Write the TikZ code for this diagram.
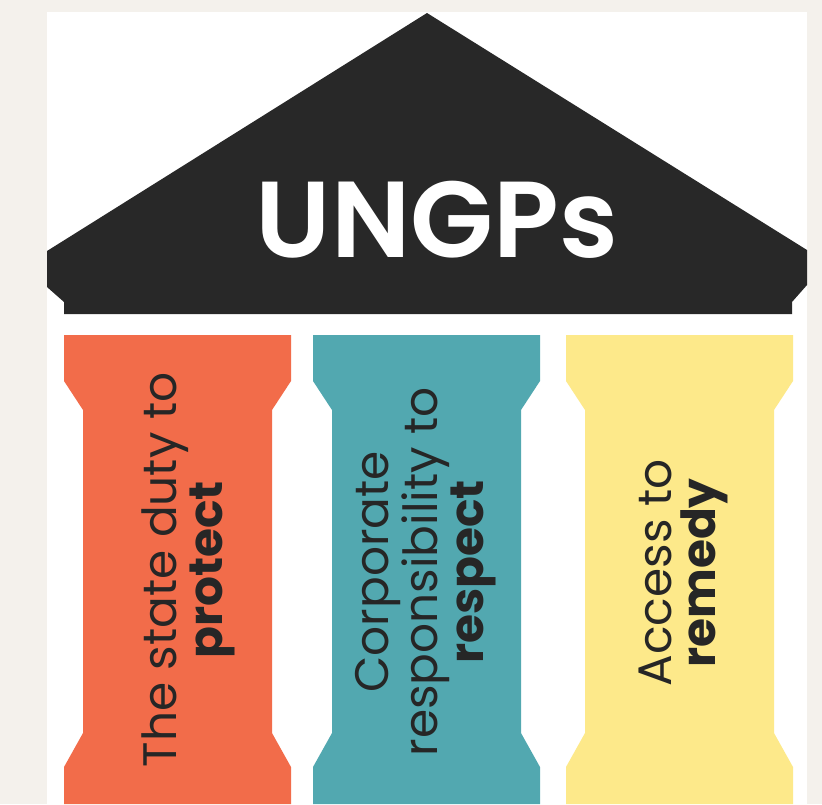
\documentclass[tikz,border=0pt]{standalone}
\usepackage{fontspec}
\setmainfont{Poppins}
\newfontfamily\titlefont{Poppins}[UprightFont={* SemiBold}]
\definecolor{bgcream}{HTML}{F4F1EC}
\definecolor{roofgray}{HTML}{282828}
\definecolor{protectorange}{HTML}{F26C4A}
\definecolor{respectteal}{HTML}{52A8B0}
\definecolor{remedyyellow}{HTML}{FDE98A}
\definecolor{inkgray}{HTML}{262626}
\begin{document}
\begin{tikzpicture}[x=1pt,y=-1pt]
\tikzstyle{every node}+=[inner sep=0pt]
\tikzstyle{pillartext}=[inkgray,rotate=90,align=center,font=\fontsize{47}{44}\selectfont]
\useasboundingbox (0,0) rectangle (822,804);
\fill [bgcream] (0,0) rectangle (822,804);
\fill [white] (47,12) rectangle (807,804);
% roof
\fill [roofgray] (427,13) -- (807,250) -- (807,285) -- (792,302) -- (792,314)
  -- (64,314) -- (64,302) -- (47,287) -- (47,251) -- cycle;
\draw (437,257) node[anchor=base,white,font=\titlefont\fontsize{108}{108}\selectfont] (ungps) {UNGPs};
% pillars
\fill [protectorange] (64,335) -- (291,335) -- (291,381) -- (272,410) -- (272,733)
  -- (291,767) -- (291,804) -- (64,804) -- (64,767) -- (83,733) -- (83,410) -- (64,381) -- cycle;
\fill [respectteal] (313,335) -- (540,335) -- (540,381) -- (521,410) -- (521,733)
  -- (540,767) -- (540,804) -- (313,804) -- (313,767) -- (332,733) -- (332,410) -- (313,381) -- cycle;
\fill [remedyyellow] (566,335) -- (793,335) -- (793,381) -- (774,410) -- (774,733)
  -- (793,767) -- (793,804) -- (566,804) -- (566,767) -- (585,733) -- (585,410) -- (566,381) -- cycle;
\draw (188,570) node[pillartext] (protect) {The state duty to\\\textbf{protect}};
\draw (426,572) node[pillartext] (respect) {Corporate\\responsibility to\\\textbf{respect}};
\draw (683,573) node[pillartext] (remedy) {Access to\\\textbf{remedy}};
\end{tikzpicture}
\end{document}
